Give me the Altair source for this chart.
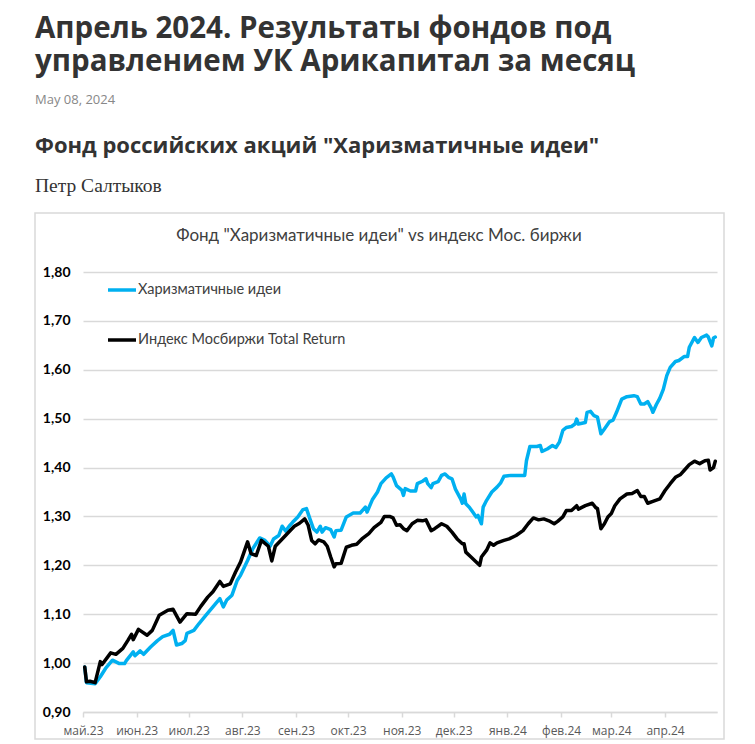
import altair as alt
import pandas as pd

# ---------------- data ----------------
series_names = ["Харизматичные идеи", "Индекс Мосбиржи Total Return"]
series_colors = ["#00B0F0", "#000000"]

fund_dates = [
    "2023-05-02", "2023-05-03", "2023-05-08", "2023-05-11", "2023-05-14", "2023-05-18", "2023-05-22",
    "2023-05-25", "2023-05-26", "2023-05-30", "2023-05-31", "2023-06-03", "2023-06-05", "2023-06-09",
    "2023-06-13", "2023-06-16", "2023-06-20", "2023-06-22", "2023-06-24", "2023-06-27", "2023-06-29",
    "2023-06-30", "2023-07-04", "2023-07-07", "2023-07-11", "2023-07-15", "2023-07-19", "2023-07-21",
    "2023-07-23", "2023-07-26", "2023-07-29", "2023-07-31", "2023-08-04", "2023-08-07", "2023-08-11",
    "2023-08-14", "2023-08-17", "2023-08-19", "2023-08-22", "2023-08-24", "2023-08-26", "2023-08-28",
    "2023-08-30", "2023-09-02", "2023-09-05", "2023-09-07", "2023-09-09", "2023-09-11", "2023-09-13",
    "2023-09-15", "2023-09-16", "2023-09-18", "2023-09-21", "2023-09-23", "2023-09-24", "2023-09-27",
    "2023-09-30", "2023-10-04", "2023-10-08", "2023-10-11", "2023-10-12", "2023-10-15", "2023-10-18",
    "2023-10-20", "2023-10-23", "2023-10-26", "2023-10-27", "2023-10-29", "2023-11-01", "2023-11-02",
    "2023-11-03", "2023-11-06", "2023-11-09", "2023-11-10", "2023-11-13", "2023-11-15", "2023-11-16",
    "2023-11-18", "2023-11-19", "2023-11-22", "2023-11-24", "2023-11-26", "2023-11-28", "2023-11-30",
    "2023-12-02", "2023-12-05", "2023-12-06", "2023-12-07", "2023-12-08", "2023-12-10", "2023-12-12",
    "2023-12-14", "2023-12-15", "2023-12-17", "2023-12-18", "2023-12-20", "2023-12-23", "2023-12-26",
    "2023-12-28", "2023-12-30", "2024-01-03", "2024-01-06", "2024-01-11", "2024-01-12", "2024-01-14",
    "2024-01-18", "2024-01-20", "2024-01-21", "2024-01-24", "2024-01-27", "2024-01-29", "2024-01-31",
    "2024-02-02", "2024-02-04", "2024-02-07", "2024-02-09", "2024-02-10", "2024-02-11", "2024-02-15",
    "2024-02-16", "2024-02-18", "2024-02-20", "2024-02-22", "2024-02-24", "2024-02-26", "2024-02-29",
    "2024-03-02", "2024-03-04", "2024-03-07", "2024-03-10", "2024-03-14", "2024-03-16", "2024-03-18",
    "2024-03-20", "2024-03-22", "2024-03-24", "2024-03-25", "2024-03-27", "2024-03-29", "2024-03-31",
    "2024-04-02", "2024-04-04", "2024-04-07", "2024-04-09", "2024-04-12", "2024-04-14", "2024-04-15",
    "2024-04-18", "2024-04-20", "2024-04-22", "2024-04-25", "2024-04-26", "2024-04-28", "2024-04-29",
    "2024-04-30",
]
fund_values = [
    0.992, 0.960, 0.958, 0.972, 0.989, 1.006, 0.999,
    0.999, 1.005, 1.023, 1.015, 1.025, 1.018, 1.033,
    1.046, 1.054, 1.059, 1.067, 1.037, 1.040, 1.046,
    1.061, 1.067, 1.081, 1.098, 1.115, 1.132, 1.115,
    1.129, 1.139, 1.169, 1.180, 1.210, 1.234, 1.256,
    1.251, 1.239, 1.254, 1.261, 1.280, 1.270, 1.280,
    1.288, 1.299, 1.314, 1.316, 1.295, 1.275, 1.268,
    1.280, 1.268, 1.277, 1.273, 1.258, 1.271, 1.272,
    1.299, 1.307, 1.307, 1.319, 1.309, 1.334, 1.350,
    1.367, 1.379, 1.387, 1.381, 1.363, 1.354, 1.343,
    1.357, 1.352, 1.352, 1.367, 1.372, 1.377, 1.367,
    1.359, 1.367, 1.371, 1.384, 1.387, 1.380, 1.377,
    1.356, 1.336, 1.327, 1.346, 1.326, 1.319, 1.309,
    1.299, 1.302, 1.285, 1.319, 1.333, 1.350, 1.360,
    1.368, 1.382, 1.384, 1.384, 1.384, 1.414, 1.443,
    1.443, 1.445, 1.433, 1.438, 1.445, 1.441, 1.452,
    1.476, 1.482, 1.484, 1.489, 1.499, 1.489, 1.492,
    1.513, 1.515, 1.506, 1.503, 1.469, 1.479, 1.494,
    1.497, 1.513, 1.540, 1.545, 1.547, 1.545, 1.530,
    1.530, 1.535, 1.522, 1.513, 1.529, 1.542, 1.560,
    1.588, 1.605, 1.617, 1.619, 1.627, 1.627, 1.646,
    1.666, 1.656, 1.666, 1.671, 1.667, 1.649, 1.665,
    1.667,
]

index_dates = [
    "2023-05-02", "2023-05-03", "2023-05-05", "2023-05-08", "2023-05-11", "2023-05-12", "2023-05-17",
    "2023-05-20", "2023-05-24", "2023-05-27", "2023-05-29", "2023-05-30", "2023-06-02", "2023-06-07",
    "2023-06-10", "2023-06-14", "2023-06-19", "2023-06-22", "2023-06-26", "2023-06-30", "2023-07-05",
    "2023-07-08", "2023-07-12", "2023-07-15", "2023-07-19", "2023-07-21", "2023-07-25", "2023-07-28",
    "2023-07-31", "2023-08-04", "2023-08-06", "2023-08-09", "2023-08-12", "2023-08-16", "2023-08-18",
    "2023-08-20", "2023-08-24", "2023-08-27", "2023-08-31", "2023-09-03", "2023-09-06", "2023-09-08",
    "2023-09-10", "2023-09-12", "2023-09-14", "2023-09-17", "2023-09-19", "2023-09-21", "2023-09-23",
    "2023-09-24", "2023-09-27", "2023-09-30", "2023-10-03", "2023-10-06", "2023-10-09", "2023-10-13",
    "2023-10-16", "2023-10-20", "2023-10-22", "2023-10-25", "2023-10-27", "2023-10-29", "2023-10-31",
    "2023-11-02", "2023-11-04", "2023-11-07", "2023-11-10", "2023-11-13", "2023-11-15", "2023-11-18",
    "2023-11-20", "2023-11-24", "2023-11-27", "2023-11-30", "2023-12-03", "2023-12-06", "2023-12-07",
    "2023-12-08", "2023-12-11", "2023-12-14", "2023-12-16", "2023-12-17", "2023-12-20", "2023-12-22",
    "2023-12-24", "2023-12-26", "2023-12-30", "2024-01-02", "2024-01-06", "2024-01-10", "2024-01-13",
    "2024-01-16", "2024-01-19", "2024-01-22", "2024-01-25", "2024-01-28", "2024-01-30", "2024-02-02",
    "2024-02-04", "2024-02-07", "2024-02-10", "2024-02-11", "2024-02-15", "2024-02-19", "2024-02-21",
    "2024-02-22", "2024-02-24", "2024-02-26", "2024-02-28", "2024-03-01", "2024-03-03", "2024-03-06",
    "2024-03-10", "2024-03-13", "2024-03-16", "2024-03-18", "2024-03-20", "2024-03-22", "2024-03-25",
    "2024-03-29", "2024-04-01", "2024-04-04", "2024-04-07", "2024-04-10", "2024-04-12", "2024-04-15",
    "2024-04-18", "2024-04-21", "2024-04-24", "2024-04-26", "2024-04-27", "2024-04-29", "2024-04-30",
]
index_values = [
    0.992, 0.962, 0.963, 0.960, 1.003, 0.997, 1.021,
    1.018, 1.030, 1.047, 1.059, 1.048, 1.069, 1.057,
    1.067, 1.098, 1.108, 1.110, 1.084, 1.101, 1.100,
    1.116, 1.135, 1.146, 1.167, 1.157, 1.162, 1.186,
    1.207, 1.248, 1.224, 1.220, 1.251, 1.239, 1.209,
    1.239, 1.254, 1.265, 1.280, 1.286, 1.295, 1.282,
    1.251, 1.244, 1.252, 1.248, 1.239, 1.217, 1.197,
    1.203, 1.204, 1.237, 1.241, 1.243, 1.254, 1.265,
    1.277, 1.288, 1.300, 1.300, 1.297, 1.282, 1.283,
    1.275, 1.271, 1.285, 1.292, 1.291, 1.293, 1.271,
    1.275, 1.285, 1.280, 1.268, 1.254, 1.244, 1.244,
    1.227, 1.217, 1.207, 1.200, 1.217, 1.231, 1.246,
    1.241, 1.246, 1.251, 1.254, 1.261, 1.271, 1.285,
    1.297, 1.293, 1.295, 1.291, 1.285, 1.290, 1.299,
    1.312, 1.312, 1.322, 1.315, 1.322, 1.327, 1.318,
    1.316, 1.275, 1.285, 1.299, 1.306, 1.322, 1.336,
    1.346, 1.347, 1.353, 1.341, 1.341, 1.327, 1.331,
    1.336, 1.353, 1.367, 1.380, 1.386, 1.394, 1.406,
    1.413, 1.408, 1.414, 1.415, 1.395, 1.400, 1.413,
]

y_ticks = [0.9, 1.0, 1.1, 1.2, 1.3, 1.4, 1.5, 1.6, 1.7, 1.8]
month_ticks = [
    (2023, 5), (2023, 6), (2023, 7), (2023, 8), (2023, 9), (2023, 10),
    (2023, 11), (2023, 12), (2024, 1), (2024, 2), (2024, 3), (2024, 4),
]
month_names = ["янв", "фев", "мар", "апр", "май", "июн", "июл", "авг", "сен", "окт", "ноя", "дек"]

page_title_lines = ["Апрель 2024. Результаты фондов под", "управлением УК Арикапитал за месяц"]
page_date = "May 08, 2024"
page_subtitle = 'Фонд российских акций "Харизматичные идеи"'
page_author = "Петр Салтыков"
chart_title = 'Фонд "Харизматичные идеи" vs индекс Мос. биржи'

# ---------------- build ----------------
df = pd.concat([
    pd.DataFrame({"date": fund_dates, "value": fund_values, "series": series_names[0]}),
    pd.DataFrame({"date": index_dates, "value": index_values, "series": series_names[1]}),
], ignore_index=True)

GRID = "#d9d9d9"
month_arr = "[" + ",".join("'%s'" % m for m in month_names) + "]"

lines = alt.Chart(df).mark_line(strokeWidth=3.5, strokeJoin="round", strokeCap="round").encode(
    x=alt.X(
        "date:T",
        scale=alt.Scale(type="utc", domain=[alt.DateTime(year=2023, month=5, date=1, utc=True),
                                            alt.DateTime(year=2024, month=5, date=1, utc=True)]),
        axis=alt.Axis(
            title=None,
            values=[alt.DateTime(year=y, month=m, date=1, utc=True) for y, m in month_ticks],
            labelExpr=month_arr + "[utcmonth(datum.value)] + '.' + utcFormat(datum.value, '%y')",
            grid=False, domain=True, domainColor=GRID, domainWidth=1.5,
            ticks=True, tickColor=GRID, tickWidth=1.5, tickSize=5,
            labelFont="Open Sans", labelFontSize=12, labelColor="#595959",
            labelPadding=8, labelBaseline="top", labelFlush=False, labelOverlap=False,
        ),
    ),
    y=alt.Y(
        "value:Q",
        scale=alt.Scale(domain=[0.9, 1.8], nice=False, zero=False),
        axis=alt.Axis(
            title=None, values=y_ticks,
            labelExpr="replace(format(datum.value, '.2f'), '.', ',')",
            grid=True, gridColor=GRID, gridWidth=1.5,
            domain=False, ticks=False, labelPadding=13,
            labelFont="Lato", labelFontWeight="bold", labelFontSize=14, labelColor="#000000",
        ),
    ),
    color=alt.Color(
        "series:N",
        scale=alt.Scale(domain=series_names, range=series_colors),
        legend=alt.Legend(
            title=None, orient="none", legendX=23, legendY=2, direction="vertical",
            symbolType="stroke", symbolSize=784, symbolStrokeWidth=3.5,
            labelFont="Lato", labelFontSize=14.5, labelColor="#404040", labelOffset=0,
            labelLimit=0, rowPadding=27,
        ),
    ),
    order=alt.Order("series:N", sort="descending"),
)


def text_layer(txt, x, y, size, font, color, weight="normal", align="left"):
    return alt.Chart(pd.DataFrame({"t": [txt]})).mark_text(
        align=align, baseline="alphabetic", font=font, fontSize=size,
        fontWeight=weight, color=color,
    ).encode(x=alt.value(x), y=alt.value(y), text="t:N")


border = alt.Chart(pd.DataFrame({"a": [0]})).mark_rect(
    fillOpacity=0, stroke=GRID, strokeWidth=1.5
).encode(x=alt.value(-48), x2=alt.value(641), y=alt.value(-59), y2=alt.value(467))

texts = [
    text_layer(page_title_lines[0], -48, -234, 29.5, "Open Sans", "#333333", "bold"),
    text_layer(page_title_lines[1], -48, -201, 29.5, "Open Sans", "#333333", "bold"),
    text_layer(page_date, -48, -168, 13, "Open Sans", "#888888"),
    text_layer(page_subtitle, -48, -119, 22, "Open Sans", "#333333", "bold"),
    text_layer(page_author, -48, -80, 19.5, "Liberation Serif", "#333333"),
    text_layer(chart_title, 296, -31, 17, "Lato", "#404040", align="center"),
]

chart = alt.layer(border, lines, *texts).properties(
    width=634, height=440,
    padding={"left": 75, "top": 264, "right": 30, "bottom": 32},
    autosize=alt.AutoSizeParams(type="none"),
    background="white",
).configure_view(stroke=None)

chart.save("out.html", embed_options={"renderer": "svg", "actions": False})
